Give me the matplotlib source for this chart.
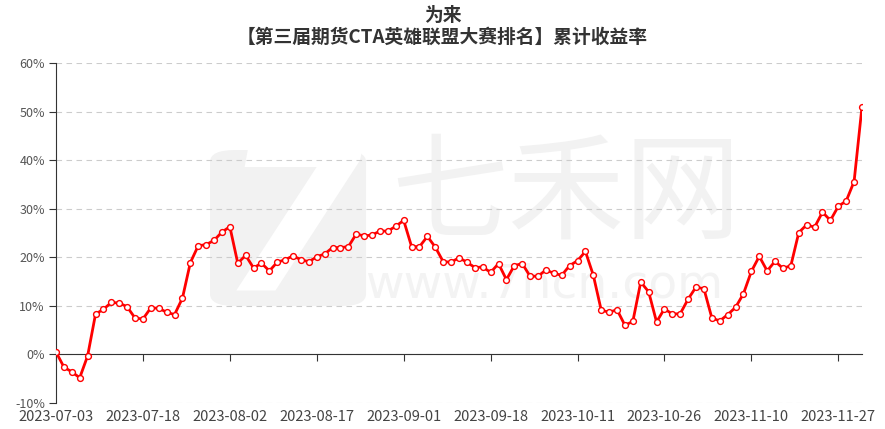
import matplotlib.pyplot as plt
import pandas as pd
from matplotlib.patches import FancyBboxPatch
from matplotlib.ticker import FuncFormatter, MultipleLocator

plt.rcParams['font.family'] = ['Noto Sans CJK SC', 'DejaVu Sans']

title_top = '为来'
title_main = '【第三届期货CTA英雄联盟大赛排名】累计收益率'

# trading days, national day holidays left out
holidays = ['2023-09-29', '2023-10-02', '2023-10-03', '2023-10-04',
            '2023-10-05', '2023-10-06']
dates = [d.strftime('%Y-%m-%d') for d in pd.bdate_range('2023-07-03', '2023-11-30')
         if d.strftime('%Y-%m-%d') not in holidays]

# cumulative return, %
returns = [0.5, -2.6, -3.6, -4.8, -0.3, 8.3, 9.3, 10.7, 10.6, 9.8,
           7.5, 7.3, 9.6, 9.5, 8.7, 8.2, 11.6, 18.9, 22.4, 22.6,
           23.5, 25.2, 26.3, 18.8, 20.4, 17.8, 18.8, 17.2, 19.0, 19.5,
           20.3, 19.5, 19.1, 20.1, 20.7, 22.0, 22.0, 22.2, 24.8, 24.4,
           24.6, 25.4, 25.4, 26.4, 27.6, 22.2, 22.2, 24.3, 22.1, 19.1,
           19.0, 19.9, 19.0, 17.9, 18.0, 16.9, 18.7, 15.4, 18.3, 18.7,
           16.1, 16.1, 17.4, 16.7, 16.3, 18.3, 19.3, 21.2, 16.3, 9.1,
           8.7, 9.2, 6.0, 6.8, 14.9, 12.9, 6.7, 9.4, 8.3, 8.4,
           11.4, 13.9, 13.5, 7.5, 6.9, 8.2, 9.7, 12.5, 17.1, 20.2,
           17.2, 19.2, 17.7, 18.3, 25.1, 26.7, 26.2, 29.3, 27.6, 30.5,
           31.6, 35.6, 51.0]

tick_step = 11

fig, ax = plt.subplots(figsize=(8.85, 4.29), dpi=100)
fig.subplots_adjust(left=0.0633, right=0.974, top=0.853, bottom=0.0606)
ax.set_axisbelow(True)

# watermark (logo + site name), behind everything
logo = FancyBboxPatch((0.2373, 0.2867), 0.1763, 0.3636, boxstyle='round,pad=0.0,rounding_size=0.028',
                      transform=fig.transFigure, fc='#f2f2f2', ec='none', zorder=0.1, clip_on=False)
ax.add_patch(logo)
ax.text(0.33, 0.46, '7', transform=fig.transFigure, fontsize=150, color='white',
        fontweight='bold', style='italic', family='DejaVu Sans', ha='center', va='center',
        zorder=0.2, clip_on=False)
ax.text(0.64, 0.54, '七禾网', transform=fig.transFigure, fontsize=84, color='#f2f2f2',
        ha='center', va='center', zorder=0.2, clip_on=False)
ax.text(0.615, 0.335, 'www.7hcn.com', transform=fig.transFigure, fontsize=34, color='#f3f3f3',
        ha='center', va='center', family='DejaVu Sans', zorder=0.2, clip_on=False)

x = list(range(len(dates)))
ax.plot(x, returns, color='#ff0000', lw=2, marker='o', ms=4.2,
        mfc='white', mec='#ff0000', mew=1, zorder=3)

ax.set_xlim(0, len(dates) - 1)
ax.set_ylim(-10, 60)

ax.yaxis.set_major_locator(MultipleLocator(10))
ax.yaxis.set_major_formatter(FuncFormatter(lambda v, p: f'{v:.0f}%'))
ax.grid(axis='y', color='#cccccc', ls=(0, (5, 4)), lw=0.8)
ax.tick_params(axis='y', length=5, color='#333333', labelcolor='#555555', labelsize=9, pad=3)

for s in ['top', 'right']:
    ax.spines[s].set_visible(False)
ax.spines['left'].set_color('#333333')
ax.spines['bottom'].set_color('#333333')
ax.spines['bottom'].set_position(('data', 0))

ticks = x[::tick_step]
ax.set_xticks(ticks)
ax.set_xticklabels([])
ax.tick_params(axis='x', length=5, color='#333333', direction='out')

sec = ax.secondary_xaxis(0)
sec.set_xticks(ticks)
sec.set_xticklabels([dates[i] for i in ticks])
sec.tick_params(length=0, labelsize=10.5, labelcolor='#444444', pad=5)
sec.spines['bottom'].set_visible(False)

fig.text(0.5, 0.963, title_top, ha='center', va='center', fontsize=13.5,
         fontweight='bold', color='#333333')
fig.text(0.5, 0.913, title_main, ha='center', va='center', fontsize=13.5,
         fontweight='bold', color='#333333')

fig.savefig('out.png', dpi=100)
